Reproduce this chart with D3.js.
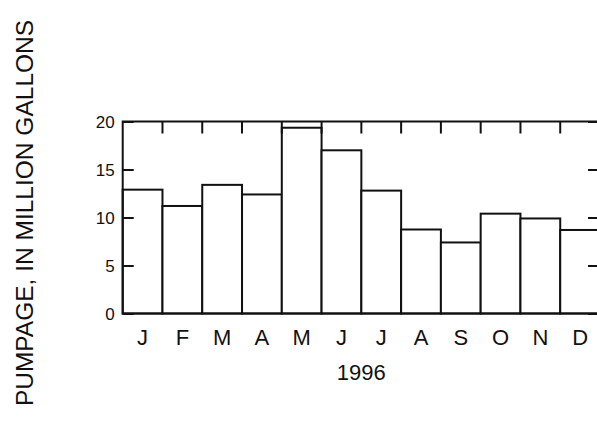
<!DOCTYPE html>
<html>
<head>
<script src="https://d3js.org/d3.v7.min.js"></script>
<style>
  body { margin: 0; background: #fff; }
  text { font-family: "Liberation Sans", Arial, sans-serif; fill: #111; }
</style>
</head>
<body>
<script>

// monthly pumpage, 1996 (million gallons)
var months = ["J", "F", "M", "A", "M", "J", "J", "A", "S", "O", "N", "D"];
var pumpage = [12.9, 11.2, 13.4, 12.4, 19.35, 17.0, 12.8, 8.75, 7.4, 10.4, 9.9, 8.7];
var yTicks = [0, 5, 10, 15, 20];

var width = 597, height = 434;
var plotL = 122.7, plotR = 600, plotT = 121.5, plotB = 313.5;

var svg = d3.select("body").append("svg")
    .attr("width", width)
    .attr("height", height);

var x = d3.scaleBand()
    .domain(d3.range(months.length))
    .range([plotL, plotR])
    .padding(0);

var y = d3.scaleLinear()
    .domain([0, 20])
    .range([plotB, plotT]);

// bars
svg.selectAll(".bar")
    .data(pumpage)
  .enter().append("rect")
    .attr("class", "bar")
    .attr("x", function(d, i) { return x(i); })
    .attr("y", function(d) { return y(d); })
    .attr("width", x.bandwidth())
    .attr("height", function(d) { return y(0) - y(d); })
    .attr("fill", "#fff")
    .attr("stroke", "#111")
    .attr("stroke-width", 2);

// frame
svg.append("rect")
    .attr("x", plotL)
    .attr("y", plotT)
    .attr("width", plotR - plotL)
    .attr("height", plotB - plotT)
    .attr("fill", "none")
    .attr("stroke", "#111")
    .attr("stroke-width", 2);

// left axis, ticks inward
var yLeft = d3.axisRight(y).tickValues(yTicks).tickSize(11).tickFormat("");
svg.append("g")
    .attr("transform", "translate(" + plotL + ",0)")
    .call(yLeft)
    .call(function(g) { g.select(".domain").remove(); })
    .selectAll("line").attr("stroke", "#111").attr("stroke-width", 2);

// tick labels on the left
svg.selectAll(".ylab")
    .data(yTicks)
  .enter().append("text")
    .attr("class", "ylab")
    .attr("x", plotL - 8)
    .attr("y", function(d) { return y(d); })
    .attr("dy", "0.36em")
    .attr("text-anchor", "end")
    .style("font-size", "17px")
    .text(function(d) { return d; });

// right axis, ticks inward
var yRight = d3.axisLeft(y).tickValues(yTicks).tickSize(12).tickFormat("");
svg.append("g")
    .attr("transform", "translate(" + plotR + ",0)")
    .call(yRight)
    .call(function(g) { g.select(".domain").remove(); })
    .selectAll("line").attr("stroke", "#111").attr("stroke-width", 2);

// top ticks at month boundaries
var bounds = d3.range(1, months.length).map(function(i) { return x(i); });
svg.selectAll(".ttick")
    .data(bounds)
  .enter().append("line")
    .attr("class", "ttick")
    .attr("x1", function(d) { return d; })
    .attr("x2", function(d) { return d; })
    .attr("y1", plotT)
    .attr("y2", plotT + 12)
    .attr("stroke", "#111")
    .attr("stroke-width", 2);

// month labels
svg.selectAll(".mlab")
    .data(months)
  .enter().append("text")
    .attr("class", "mlab")
    .attr("x", function(d, i) { return x(i) + x.bandwidth() / 2; })
    .attr("y", 345)
    .attr("text-anchor", "middle")
    .style("font-size", "22px")
    .text(function(d) { return d; });

svg.append("text")
    .attr("x", (plotL + plotR) / 2)
    .attr("y", 380)
    .attr("text-anchor", "middle")
    .style("font-size", "22px")
    .text("1996");

svg.append("text")
    .attr("transform", "translate(33,213) rotate(-90)")
    .attr("text-anchor", "middle")
    .style("font-size", "24.5px")
    .text("PUMPAGE, IN MILLION GALLONS");

</script>
</body>
</html>
